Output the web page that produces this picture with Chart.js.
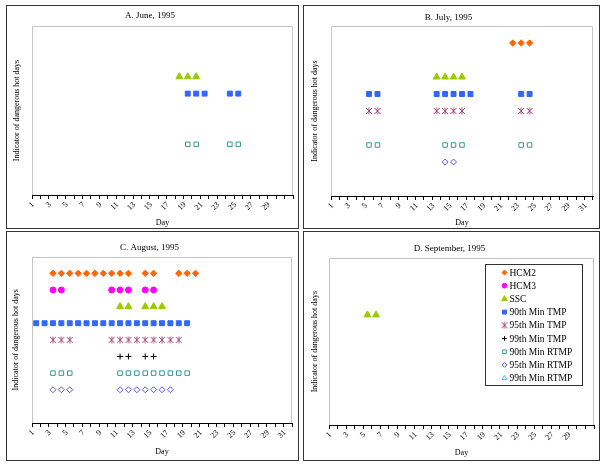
<!DOCTYPE html>
<html lang="en">
<head>
  <meta charset="UTF-8" />
  <title>Dangerous hot days, 1995</title>
  <script src="https://cdn.jsdelivr.net/npm/chart.js"></script>
  <style>
    body { margin: 0; background: #fff; }
    #wrap { position: relative; width: 605px; height: 466px; background: #fff; }
    .panel { position: absolute; border: 1px solid #333; box-sizing: border-box; background: #fff; }
    .panel canvas { display: block; }
  </style>
</head>
<body>
  <div id="wrap"></div>

  <script>
  // x categories (days) and series
  const dayLabels = ["1","2","3","4","5","6","7","8","9","10","11","12","13","14","15","16",
                     "17","18","19","20","21","22","23","24","25","26","27","28","29","30","31"];
  const seriesNames = ["HCM2", "HCM3", "SSC", "90th Min TMP", "95th Min TMP", "99th Min TMP",
                       "90th Min RTMP", "95th Min RTMP", "99th Min RTMP"];
  const seriesLevels = [9, 8, 7, 6, 5, 4, 3, 2, 1];

  const monthTitles = ["A. June, 1995", "B. July, 1995", "C. August, 1995", "D. September, 1995"];
  const monthLengths = [30, 31, 31, 30];

  // days flagged per series (same order as seriesNames)
  const juneDays = [[], [], [18, 19, 20], [19, 20, 21, 24, 25], [], [], [19, 20, 24, 25], [], []];
  const julyDays = [
    [22, 23, 24], [], [13, 14, 15, 16],
    [5, 6, 13, 14, 15, 16, 17, 23, 24],
    [5, 6, 13, 14, 15, 16, 23, 24], [],
    [5, 6, 14, 15, 16, 23, 24], [14, 15], []
  ];
  const augustDays = [
    [3, 4, 5, 6, 7, 8, 9, 10, 11, 12, 14, 15, 18, 19, 20],
    [3, 4, 10, 11, 12, 14, 15],
    [11, 12, 14, 15, 16],
    [1, 2, 3, 4, 5, 6, 7, 8, 9, 10, 11, 12, 13, 14, 15, 16, 17, 18, 19],
    [3, 4, 5, 10, 11, 12, 13, 14, 15, 16, 17, 18],
    [11, 12, 14, 15],
    [3, 4, 5, 11, 12, 13, 14, 15, 16, 17, 18, 19],
    [3, 4, 5, 11, 12, 13, 14, 15, 16, 17],
    []
  ];
  const septemberDays = [[], [], [5, 6], [], [], [], [], [], []];
  const monthDays = [juneDays, julyDays, augustDays, septemberDays];

  // excel style "star" marker: X with a vertical bar
  function starMark(color) {
    const c = document.createElement("canvas");
    c.width = 8; c.height = 8;
    const g = c.getContext("2d");
    g.strokeStyle = color;
    g.lineWidth = 1;
    g.beginPath();
    g.moveTo(1, 1); g.lineTo(7, 7);
    g.moveTo(7, 1); g.lineTo(1, 7);
    g.moveTo(4, 0.5); g.lineTo(4, 7.5);
    g.stroke();
    return c;
  }

  const seriesStyles = [
    { style: "rectRot",  r: 3.2, fill: "#ff6600", line: "#ff6600", bw: 1 },
    { style: "circle",   r: 3.0, fill: "#ff00ff", line: "#ff00ff", bw: 1 },
    { style: "triangle", r: 4.0, fill: "#99cc00", line: "#99cc00", bw: 1 },
    { style: "rect",     r: 3.5, fill: "#3366ff", line: "#3366ff", bw: 1 },
    { style: starMark("#a0467a"), r: 4, fill: "#a0467a", line: "#a0467a", bw: 1 },
    { style: "cross",    r: 3.0, fill: "#000000", line: "#000000", bw: 1 },
    { style: "rect",     r: 3.2, fill: "#ffffff", line: "#339999", bw: 1 },
    { style: "rectRot",  r: 3.0, fill: "#ffffff", line: "#5555ee", bw: 1 },
    { style: "triangle", r: 3.6, fill: "#ffffff", line: "#33ccff", bw: 1 }
  ];

  // panel boxes and inner spacing
  const panelBoxes = [
    { left: 6,   top: 5,   w: 293, h: 224, yW: 25, xH: 33, right: 5, tTop: 4.6,  tBot: 4.6, yPad: 4.9, xPad: 0.5, yMax: 10 },
    { left: 303, top: 5,   w: 297, h: 224, yW: 27, xH: 32, right: 6, tTop: 5.9,  tBot: 3.3, yPad: 6.2, xPad: 0,   yMax: 10 },
    { left: 6,   top: 231, w: 293, h: 230, yW: 25, xH: 37, right: 6, tTop: 9.9,  tBot: 4.0, yPad: 4.2, xPad: 3.5, yMax: 10 },
    { left: 303, top: 231, w: 297, h: 230, yW: 25, xH: 35, right: 4, tTop: 10.9, tBot: 4.6, yPad: 6.2, xPad: 2.5, yMax: 10.6 }
  ];

  const serif = "'Liberation Serif', 'DejaVu Serif', serif";

  const plotFrame = {
    id: "plotFrame",
    beforeDatasetsDraw(chart) {
      const { ctx, chartArea: a } = chart;
      ctx.save();
      ctx.strokeStyle = "#c4c4c4";
      ctx.lineWidth = 1;
      ctx.beginPath();
      ctx.moveTo(Math.round(a.left) + 0.5, a.bottom);
      ctx.lineTo(Math.round(a.left) + 0.5, Math.round(a.top) + 0.5);
      ctx.lineTo(Math.round(a.right) - 0.5, Math.round(a.top) + 0.5);
      ctx.lineTo(Math.round(a.right) - 0.5, a.bottom);
      ctx.stroke();
      ctx.restore();
    }
  };

  const insideLegend = {
    id: "insideLegend",
    afterDraw(chart) {
      const { ctx, chartArea: a } = chart;
      const w = 97, h = 121, rowH = 13.2;
      const x0 = Math.round(a.right - 12 - w), y0 = Math.round(a.top + 6);
      ctx.save();
      ctx.fillStyle = "#fff";
      ctx.fillRect(x0, y0, w, h);
      ctx.strokeStyle = "#333";
      ctx.lineWidth = 1;
      ctx.strokeRect(x0 + 0.5, y0 + 0.5, w, h);
      chart.data.datasets.forEach((ds, i) => {
        const cy = y0 + 8.5 + i * rowH;
        ctx.fillStyle = ds.pointBackgroundColor;
        ctx.strokeStyle = ds.pointBorderColor;
        ctx.lineWidth = ds.pointBorderWidth;
        Chart.helpers.drawPoint(ctx, {
          pointStyle: ds.pointStyle, rotation: 0,
          radius: ds.pointRadius * 0.8, borderWidth: ds.pointBorderWidth
        }, x0 + 19.5, cy);
        ctx.fillStyle = "#000";
        ctx.font = "9.5px " + serif;
        ctx.textBaseline = "middle";
        ctx.textAlign = "left";
        ctx.fillText(ds.label, x0 + 24.5, cy + 0.5);
      });
      ctx.restore();
    }
  };

  const wrap = document.getElementById("wrap");

  monthTitles.forEach((title, m) => {
    const p = panelBoxes[m];
    const div = document.createElement("div");
    div.className = "panel";
    div.style.left = p.left + "px";
    div.style.top = p.top + "px";
    div.style.width = p.w + "px";
    div.style.height = p.h + "px";
    const canvas = document.createElement("canvas");
    canvas.width = p.w - 2;
    canvas.height = p.h - 2;
    div.appendChild(canvas);
    wrap.appendChild(div);

    const len = monthLengths[m];
    const datasets = seriesNames.map((name, s) => {
      const st = seriesStyles[s];
      return {
        label: name,
        data: monthDays[m][s].map(d => ({ x: String(d), y: seriesLevels[s] })),
        pointStyle: st.style,
        pointRadius: st.r,
        pointBackgroundColor: st.fill,
        pointBorderColor: st.line,
        pointBorderWidth: st.bw,
        showLine: false
      };
    });

    new Chart(canvas.getContext("2d"), {
      type: "scatter",
      data: { datasets },
      options: {
        responsive: false,
        animation: false,
        layout: { padding: { left: 0, top: 0, right: p.right, bottom: 0 } },
        plugins: {
          legend: { display: false },
          tooltip: { enabled: false },
          title: {
            display: true,
            text: title,
            color: "#000",
            font: { family: serif, size: 9, weight: "normal" },
            padding: { top: p.tTop, bottom: p.tBot }
          }
        },
        scales: {
          x: {
            type: "category",
            labels: dayLabels,
            offset: true,
            afterFit(scale) { scale.height = p.xH; },
            grid: { offset: true, drawOnChartArea: false, drawTicks: true, tickLength: 4, color: "#000" },
            border: { display: true, color: "#000", width: 1 },
            ticks: {
              autoSkip: false,
              minRotation: 45,
              maxRotation: 45,
              padding: 1,
              labelOffset: -3,
              color: "#000",
              font: { family: serif, size: 8 },
              callback: function (value) {
                const day = Number(this.getLabelForValue(value));
                return (day % 2 === 1 && day <= len) ? String(day) : "";
              }
            },
            title: {
              display: true,
              text: "Day",
              color: "#000",
              font: { family: serif, size: 8 },
              padding: { top: 0, bottom: p.xPad }
            }
          },
          y: {
            min: 0,
            max: p.yMax,
            afterFit(scale) { scale.width = p.yW; },
            grid: { display: false },
            border: { display: false },
            ticks: { display: false },
            title: {
              display: true,
              text: "Indicator of dangerous hot days",
              color: "#000",
              font: { family: serif, size: 8 },
              padding: { top: p.yPad, bottom: 0 }
            }
          }
        }
      },
      plugins: m === 3 ? [plotFrame, insideLegend] : [plotFrame]
    });
  });
</script>
</body>
</html>
